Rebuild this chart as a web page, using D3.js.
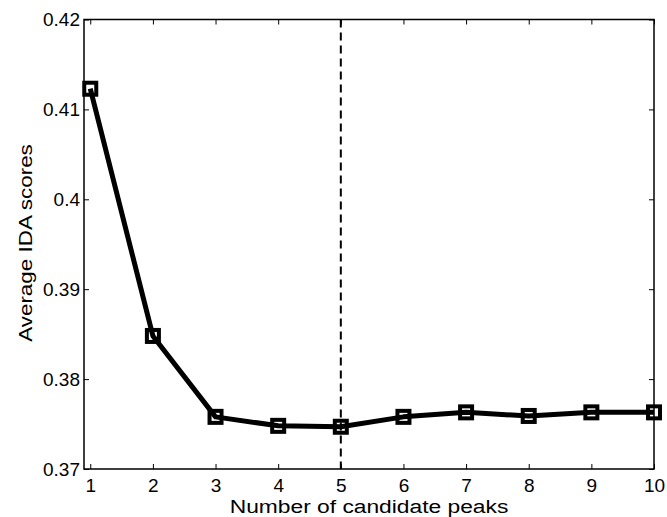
<!DOCTYPE html>
<html><head><meta charset="utf-8">
<script src="https://cdn.jsdelivr.net/npm/d3@7/dist/d3.min.js"></script>
<style>
body{margin:0;background:#fff;}
text{font-family:"Liberation Sans",Arial,Helvetica,sans-serif;}
</style></head>
<body><svg id="chart" width="667" height="517"></svg>
<script>
const peaks = [1, 2, 3, 4, 5, 6, 7, 8, 9, 10];
const scores = [0.4123, 0.3848, 0.3758, 0.3748, 0.3747, 0.3758, 0.3763, 0.3759, 0.3763, 0.3763];
const xTicks = [1, 2, 3, 4, 5, 6, 7, 8, 9, 10];
const yTicks = [0.37, 0.38, 0.39, 0.40, 0.41, 0.42];
const yTickLabels = ["0.37", "0.38", "0.39", "0.4", "0.41", "0.42"];
const xLabel = "Number of candidate peaks";
const yLabel = "Average IDA scores";

const svg = d3.select("#chart");
const L = 84, R = 654, T = 19.5, B = 469;
const x = d3.scaleLinear().domain([0.9, 10]).range([L, R]);
const y = d3.scaleLinear().domain([0.37, 0.42]).range([B, T]);

const g = svg.append("g");
g.append("rect").attr("x", L).attr("y", T).attr("width", R - L).attr("height", B - T)
  .attr("fill", "none").attr("stroke", "#000").attr("stroke-width", 1.5);

const tl = 5;
const xb = g.append("g").attr("transform", `translate(0,${B})`)
  .call(d3.axisBottom(x).tickValues(xTicks).tickSize(-tl).tickPadding(10).tickFormat(d3.format("d")));
const xt = g.append("g").attr("transform", `translate(0,${T})`)
  .call(d3.axisTop(x).tickValues(xTicks).tickSize(-tl).tickFormat(""));
const yl = g.append("g").attr("transform", `translate(${L},0)`)
  .call(d3.axisLeft(y).tickValues(yTicks).tickSize(-tl).tickPadding(4).tickFormat((d, i) => yTickLabels[i]));
const yr = g.append("g").attr("transform", `translate(${R},0)`)
  .call(d3.axisRight(y).tickValues(yTicks).tickSize(-tl).tickFormat(""));
[xb, xt, yl, yr].forEach(a => {
  a.select(".domain").remove();
  a.selectAll("line").attr("stroke", "#000").attr("stroke-width", 1);
  a.selectAll("text").attr("font-size", 19).attr("fill", "#000")
   .style("font-family", '"Liberation Sans",Arial,sans-serif');
});

g.append("line").attr("x1", x(5)).attr("x2", x(5)).attr("y1", T).attr("y2", B)
  .attr("stroke", "#000").attr("stroke-width", 2).attr("stroke-dasharray", "8,5");

const line = d3.line().x((d, i) => x(peaks[i])).y(d => y(d));
g.append("path").datum(scores).attr("d", line).attr("fill", "none")
  .attr("stroke", "#000").attr("stroke-width", 5).attr("stroke-linejoin", "round");

const ms = 12;
g.selectAll("rect.m").data(scores).enter().append("rect").attr("class", "m")
  .attr("x", (d, i) => x(peaks[i]) - ms / 2).attr("y", d => y(d) - ms / 2)
  .attr("width", ms).attr("height", ms)
  .attr("fill", "none").attr("stroke", "#000").attr("stroke-width", 4);

svg.append("text").attr("transform", `translate(${(L + R) / 2},513) scale(1.2,1)`)
  .attr("text-anchor", "middle").attr("font-size", 19).text(xLabel);
svg.append("text").attr("transform", `translate(32,243) rotate(-90) scale(1.18,1)`)
  .attr("text-anchor", "middle").attr("font-size", 19).text(yLabel);
</script></body></html>
